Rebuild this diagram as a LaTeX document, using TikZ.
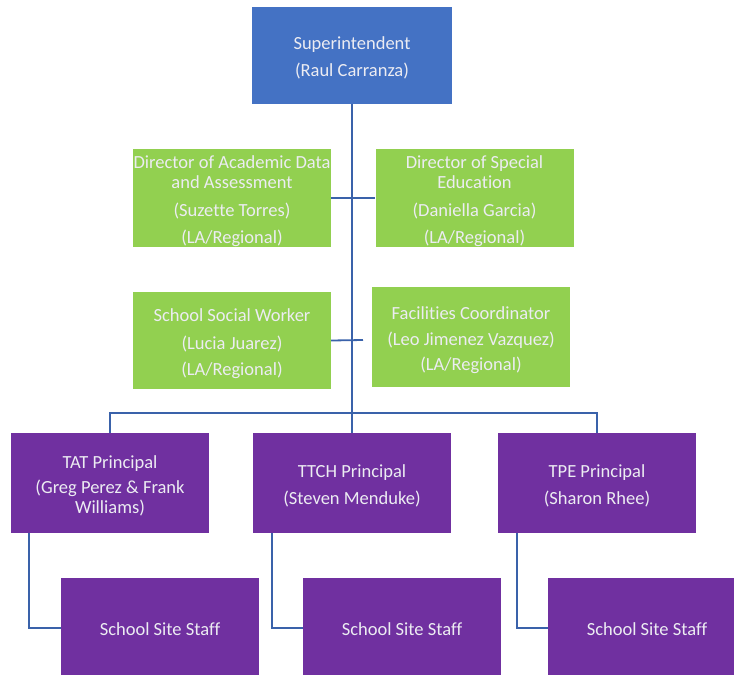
\documentclass[tikz,border=0pt]{standalone}
\usepackage{fontspec}
\setmainfont{Carlito}[Ligatures=NoCommon]
\definecolor{supblue}{RGB}{68,114,196}
\definecolor{dirgreen}{RGB}{146,208,80}
\definecolor{prinpurple}{RGB}{112,48,160}
\definecolor{linkblue}{RGB}{58,98,170}
\definecolor{boxtext}{RGB}{236,236,242}
\begin{document}
\begin{tikzpicture}[x=1pt,y=-1pt,
  orgbox/.style={draw=none, inner sep=0pt, minimum width=198pt, minimum height=98pt},
  boxlabel/.style={inner sep=0pt, align=center, text=boxtext,
    font=\fontsize{18.5}{20}\selectfont},
  topbox/.style={orgbox, fill=supblue, minimum width=200pt, minimum height=97pt},
  dirbox/.style={orgbox, fill=dirgreen},
  prinbox/.style={orgbox, fill=prinpurple, minimum height=100pt},
  link/.style={draw=linkblue, line width=1.8pt},
  trunk/.style={draw=linkblue, line width=2.8pt}]
\useasboundingbox (0,0) rectangle (734,675);
\clip (0,0) rectangle (734,675);

\node[topbox] (sup) at (352,55.5) {};
\node[boxlabel] (supt) at ([yshift=-2pt]sup.center) {Superintendent\\[7pt](Raul Carranza)};

\node[dirbox] (dad) at (232,198) {};
\node[boxlabel] (dadt) at ([yshift=-3pt]dad.center) {Director of Academic Data\\and Assessment\\[8pt](Suzette Torres)\\[7pt](LA/Regional)};
\node[dirbox] (dse) at (474.5,198) {};
\node[boxlabel] (dset) at ([yshift=-3pt]dse.center) {Director of Special\\Education\\[8pt](Daniella Garcia)\\[7pt](LA/Regional)};
\node[dirbox, minimum height=97pt] (ssw) at (232,340.5) {};
\node[boxlabel] (sswt) at ([yshift=-3pt]ssw.center) {School Social Worker\\[8pt](Lucia Juarez)\\[6pt](LA/Regional)};
\node[dirbox, minimum height=100pt] (fac) at (471,337) {};
\node[boxlabel] (fact) at ([yshift=-3pt]fac.center) {Facilities Coordinator\\[6pt](Leo Jimenez Vazquez)\\[5pt](LA/Regional)};

\node[prinbox] (tat) at (110,483) {};
\node[boxlabel] (tatt) at ([yshift=-3pt]tat.center) {TAT Principal\\[5pt](Greg Perez \& Frank\\Williams)};
\node[prinbox] (ttch) at (352,483) {};
\node[boxlabel] (ttcht) at ([yshift=-3pt]ttch.center) {TTCH Principal\\[7pt](Steven Menduke)};
\node[prinbox] (tpe) at (597,483) {};
\node[boxlabel] (tpet) at ([yshift=-3pt]tpe.center) {TPE Principal\\[7pt](Sharon Rhee)};

\node[prinbox] (s1) at (160,628) {};
\node[boxlabel] (s1t) at ([yshift=-1pt]s1.center) {School Site Staff};
\node[prinbox] (s2) at (402,628) {};
\node[boxlabel] (s2t) at ([yshift=-1pt]s2.center) {School Site Staff};
\node[prinbox] (s3) at (647,628) {};
\node[boxlabel] (s3t) at ([yshift=-1pt]s3.center) {School Site Staff};

\coordinate (bus) at (352,413);
\coordinate (stub) at (363,340);

\draw[trunk] (sup.south) -- (ttch.north);
\draw[link] (tat.north) |- (bus) -| (tpe.north);
\draw[link] (dad.east) -- (dse.west);
\draw[link] (ssw.east) -- (stub);
\draw[link] ([xshift=18.5pt]tat.south west) |- (s1.west);
\draw[link] ([xshift=19pt]ttch.south west) |- (s2.west);
\draw[link] ([xshift=19pt]tpe.south west) |- (s3.west);
\end{tikzpicture}
\end{document}
